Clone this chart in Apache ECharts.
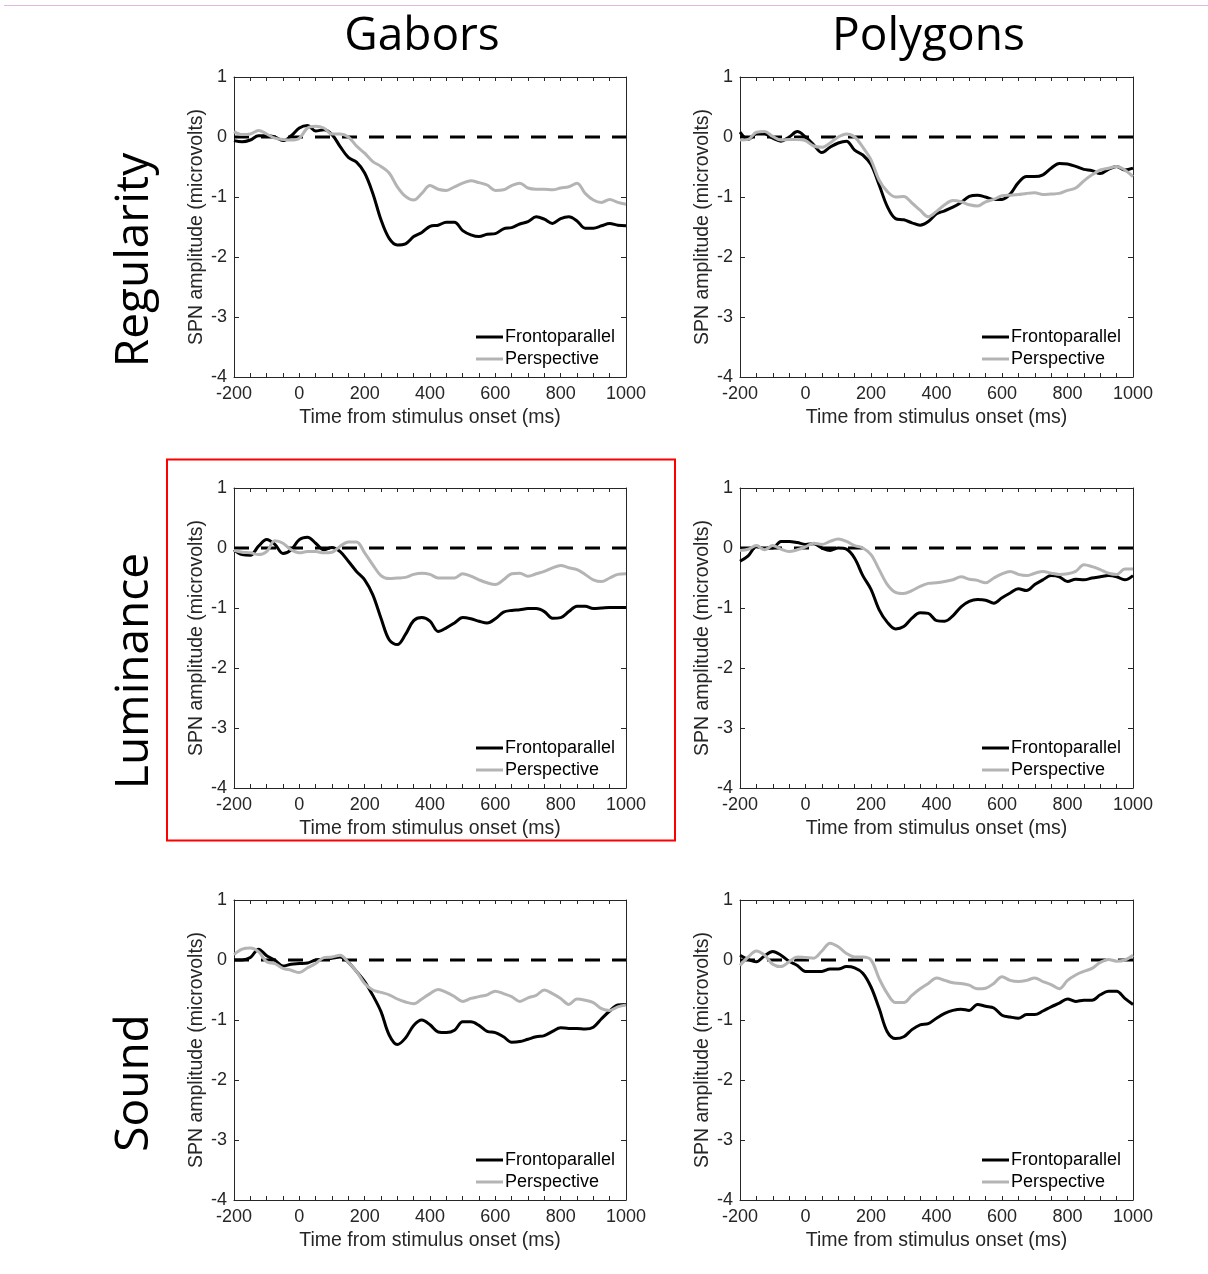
<!DOCTYPE html>
<html><head><meta charset="utf-8">
<script src="https://cdn.jsdelivr.net/npm/echarts@6/dist/echarts.min.js"></script>
<style>html,body{margin:0;padding:0;background:#fff}#c{width:1208px;height:1274px}</style>
</head><body><div id="c"></div>
<script>
// ---- data ----
const times = [-200,-175,-150,-125,-100,-75,-50,-25,0,25,50,75,100,125,150,175,200,225,250,275,300,325,350,375,400,425,450,475,500,525,550,575,600,625,650,675,700,725,750,775,800,825,850,875,900,925,950,975,1000];
const xTickLabels = [-200,0,200,400,600,800,1000];
const yTickLabels = [-4,-3,-2,-1,0,1];
const columnTitles = ['Gabors','Polygons'];
const rowTitles = ['Regularity','Luminance','Sound'];
const seriesNames = ['Frontoparallel','Perspective'];

const gaborsRegularityFronto = [-0.06,-0.08,-0.05,0.02,0.02,0,-0.06,0.02,0.15,0.19,0.10,0.12,0.04,-0.16,-0.34,-0.42,-0.6,-0.94,-1.38,-1.69,-1.80,-1.78,-1.66,-1.59,-1.49,-1.47,-1.42,-1.42,-1.56,-1.63,-1.66,-1.62,-1.61,-1.53,-1.51,-1.45,-1.41,-1.33,-1.37,-1.44,-1.36,-1.33,-1.40,-1.52,-1.52,-1.48,-1.44,-1.47,-1.48];
const gaborsRegularityPersp = [0.09,0.04,0.05,0.11,0.05,-0.02,-0.04,-0.05,-0.02,0.15,0.18,0.15,0.05,0.05,0,-0.15,-0.27,-0.41,-0.49,-0.60,-0.83,-0.99,-1.05,-0.94,-0.81,-0.87,-0.89,-0.83,-0.77,-0.73,-0.76,-0.80,-0.89,-0.88,-0.81,-0.77,-0.85,-0.87,-0.87,-0.88,-0.85,-0.83,-0.77,-0.94,-1.05,-1.09,-1.04,-1.09,-1.12];
const polygonsRegularityFronto = [0.08,-0.04,0.05,0.05,-0.02,-0.07,0,0.09,0,-0.13,-0.26,-0.17,-0.10,-0.07,-0.22,-0.30,-0.46,-0.80,-1.16,-1.36,-1.38,-1.43,-1.47,-1.41,-1.28,-1.23,-1.17,-1.09,-0.99,-0.97,-1.00,-1.04,-1.04,-0.95,-0.76,-0.66,-0.66,-0.63,-0.52,-0.44,-0.45,-0.49,-0.54,-0.56,-0.61,-0.54,-0.49,-0.55,-0.52];
const polygonsRegularityPersp = [-0.05,-0.04,0.08,0.09,0.01,-0.05,-0.04,-0.04,-0.06,-0.15,-0.17,-0.10,0,0.05,0,-0.17,-0.38,-0.72,-0.91,-1.00,-0.99,-1.10,-1.22,-1.33,-1.24,-1.13,-1.06,-1.08,-1.13,-1.15,-1.08,-1.04,-0.98,-0.97,-0.96,-0.94,-0.93,-0.96,-0.95,-0.94,-0.89,-0.85,-0.73,-0.63,-0.55,-0.52,-0.49,-0.55,-0.66];
const gaborsLuminanceFronto = [-0.03,-0.11,-0.12,0.03,0.14,0.06,-0.09,-0.03,0.14,0.18,0.08,-0.03,0.01,-0.06,-0.22,-0.39,-0.53,-0.78,-1.17,-1.53,-1.61,-1.44,-1.21,-1.16,-1.22,-1.39,-1.33,-1.25,-1.16,-1.18,-1.22,-1.25,-1.18,-1.07,-1.04,-1.03,-1.01,-1.01,-1.06,-1.17,-1.16,-1.06,-0.97,-0.97,-1.01,-1.00,-0.99,-0.99,-0.99];
const gaborsLuminancePersp = [-0.04,-0.07,-0.08,-0.11,-0.06,0.12,0.08,-0.03,-0.08,-0.06,-0.06,-0.08,-0.07,0.03,0.10,0.10,-0.08,-0.28,-0.46,-0.51,-0.50,-0.49,-0.44,-0.42,-0.44,-0.50,-0.50,-0.50,-0.43,-0.47,-0.53,-0.58,-0.61,-0.53,-0.43,-0.42,-0.47,-0.43,-0.39,-0.33,-0.29,-0.33,-0.36,-0.44,-0.53,-0.56,-0.50,-0.44,-0.43];
const polygonsLuminanceFronto = [-0.22,-0.13,0.02,0,0,0.11,0.11,0.09,0.06,0.07,0,-0.04,0,-0.02,-0.17,-0.46,-0.69,-1.03,-1.24,-1.35,-1.31,-1.17,-1.08,-1.09,-1.21,-1.22,-1.13,-0.98,-0.89,-0.86,-0.87,-0.92,-0.83,-0.75,-0.68,-0.71,-0.61,-0.53,-0.46,-0.48,-0.56,-0.52,-0.53,-0.50,-0.48,-0.46,-0.48,-0.53,-0.46];
const polygonsLuminancePersp = [-0.04,-0.02,0.04,-0.03,0.04,-0.02,-0.06,-0.03,0.02,0.08,0.06,0.11,0.15,0.11,0.04,0,-0.11,-0.36,-0.61,-0.74,-0.76,-0.71,-0.64,-0.59,-0.58,-0.56,-0.53,-0.48,-0.52,-0.54,-0.58,-0.50,-0.43,-0.39,-0.44,-0.46,-0.42,-0.39,-0.42,-0.44,-0.43,-0.39,-0.28,-0.31,-0.36,-0.42,-0.44,-0.35,-0.35];
const gaborsSoundFronto = [0,0,0.04,0.18,0.07,0,-0.10,-0.07,-0.06,-0.05,0,0.01,0.03,0.05,-0.04,-0.19,-0.36,-0.59,-0.86,-1.25,-1.41,-1.30,-1.09,-1.00,-1.08,-1.20,-1.21,-1.17,-1.03,-1.03,-1.09,-1.19,-1.21,-1.28,-1.37,-1.36,-1.32,-1.28,-1.26,-1.19,-1.13,-1.14,-1.14,-1.15,-1.12,-0.98,-0.85,-0.75,-0.74];
const gaborsSoundPersp = [0.09,0.18,0.20,0.14,-0.03,-0.06,-0.14,-0.17,-0.21,-0.13,-0.06,0.04,0.05,0.08,-0.04,-0.19,-0.39,-0.50,-0.54,-0.58,-0.65,-0.70,-0.73,-0.65,-0.56,-0.49,-0.54,-0.61,-0.69,-0.64,-0.61,-0.58,-0.52,-0.56,-0.61,-0.69,-0.63,-0.59,-0.50,-0.56,-0.64,-0.74,-0.65,-0.67,-0.71,-0.81,-0.84,-0.78,-0.75];
const polygonsSoundFronto = [0.08,0.01,-0.03,0.07,0.14,0.08,-0.02,-0.09,-0.19,-0.19,-0.19,-0.15,-0.15,-0.11,-0.13,-0.22,-0.45,-0.81,-1.20,-1.31,-1.28,-1.16,-1.08,-1.06,-0.97,-0.89,-0.84,-0.82,-0.84,-0.74,-0.77,-0.80,-0.92,-0.95,-0.97,-0.91,-0.91,-0.85,-0.78,-0.72,-0.65,-0.69,-0.67,-0.67,-0.58,-0.52,-0.52,-0.64,-0.74];
const polygonsSoundPersp = [-0.09,0.05,0.15,0.08,-0.07,-0.11,-0.03,0.05,0.04,0.03,0.15,0.28,0.22,0.11,0.05,0.05,0,-0.31,-0.56,-0.71,-0.71,-0.59,-0.48,-0.39,-0.30,-0.34,-0.38,-0.39,-0.42,-0.48,-0.47,-0.39,-0.28,-0.34,-0.36,-0.34,-0.30,-0.36,-0.41,-0.48,-0.34,-0.25,-0.19,-0.14,-0.04,0.01,-0.02,0,0.08];

const panelData = [
  [gaborsRegularityFronto, gaborsRegularityPersp],
  [polygonsRegularityFronto, polygonsRegularityPersp],
  [gaborsLuminanceFronto, gaborsLuminancePersp],
  [polygonsLuminanceFronto, polygonsLuminancePersp],
  [gaborsSoundFronto, gaborsSoundPersp],
  [polygonsSoundFronto, polygonsSoundPersp]
];

// ---- layout / style ----
const colLeft = [234, 740], colW = [392, 393];
const rowTop = [77, 488, 900], plotH = 300;
const axisColor = '#262626';
const axFont = 'Liberation Sans';
const seriesColors = ['#000000', '#b4b4b4'];

const xMin = xTickLabels[0], xMax = xTickLabels[xTickLabels.length-1];
const xStep = xTickLabels[1]-xTickLabels[0];
const yMin = yTickLabels[0], yMax = yTickLabels[yTickLabels.length-1];
const yStep = yTickLabels[1]-yTickLabels[0];

const grids=[], xAxes=[], yAxes=[], series=[], legends=[];
const lineSt = {color: axisColor, width: 1};
const plain = v => String(v);
panelData.forEach((pd, i) => {
  const r = Math.floor(i/2), c = i%2;
  grids.push({left: colLeft[c], top: rowTop[r], width: colW[c], height: plotH});
  const xBase = {gridIndex: i, type: 'value', min: xMin, max: xMax, interval: xStep,
    axisLine: {show: true, onZero: false, lineStyle: lineSt},
    axisTick: {show: true, inside: true, length: 4, lineStyle: lineSt},
    minorTick: {show: true, splitNumber: 4, length: 4, lineStyle: lineSt},
    splitLine: {show: false}, minorSplitLine: {show: false}};
  xAxes.push(Object.assign({}, xBase, {position: 'bottom',
    name: 'Time from stimulus onset (ms)', nameLocation: 'middle', nameGap: 31,
    nameTextStyle: {fontFamily: axFont, fontSize: 19.5, color: axisColor},
    axisLabel: {show: true, margin: 8, fontFamily: axFont, fontSize: 18, color: axisColor, formatter: plain}}));
  xAxes.push(Object.assign({}, xBase, {position: 'top', axisLabel: {show: false}}));
  const yBase = {gridIndex: i, type: 'value', min: yMin, max: yMax, interval: yStep,
    axisLine: {show: true, onZero: false, lineStyle: lineSt},
    axisTick: {show: true, inside: true, length: 5, lineStyle: lineSt},
    splitLine: {show: false}};
  yAxes.push(Object.assign({}, yBase, {position: 'left',
    name: 'SPN amplitude (microvolts)', nameLocation: 'middle', nameGap: 26,
    nameTextStyle: {fontFamily: axFont, fontSize: 19.5, color: axisColor},
    axisLabel: {show: true, margin: 7, fontFamily: axFont, fontSize: 18, color: axisColor, formatter: plain}}));
  yAxes.push(Object.assign({}, yBase, {position: 'right', axisLabel: {show: false}}));

  series.push({type: 'line', xAxisIndex: 2*i, yAxisIndex: 2*i, data: [[xMin,0],[xMax,0]],
    symbol: 'none', silent: true, z: 1,
    lineStyle: {color: '#000', width: 3, type: [15, 12]}});
  pd.forEach((vals, k) => {
    series.push({name: seriesNames[k], type: 'line', xAxisIndex: 2*i, yAxisIndex: 2*i,
      data: times.map((t, j) => [t, vals[j]]), smooth: 0.35, symbol: 'none', showSymbol: false,
      z: 2 + k, lineStyle: {color: seriesColors[k], width: 3}, itemStyle: {color: seriesColors[k]}});
  });
  legends.push({orient: 'vertical', left: c === 0 ? 471 : 977, top: rowTop[r] + plotH - 54,
    icon: 'rect', itemWidth: 27, itemHeight: 3, itemGap: 4, padding: 5, selectedMode: false,
    data: seriesNames, textStyle: {fontFamily: axFont, fontSize: 18, color: '#000', padding: [0,0,0,-3]}});
});

const titleFont = '"Open Sans", "Noto Sans", sans-serif';
const graphics = [
  {type: 'line', shape: {x1: 4, y1: 5.5, x2: 1208, y2: 5.5}, style: {stroke: '#e2b8e2', lineWidth: 1}},
  {type: 'rect', shape: {x: 167, y: 459.5, width: 508, height: 381}, style: {fill: 'none', stroke: '#ff0000', lineWidth: 2}}
];
columnTitles.forEach((t, c) => graphics.push({type: 'text', x: colLeft[c] + colW[c]/2 - 8, y: 37,
  style: {text: t, font: '46px ' + titleFont, fill: '#000', align: 'center', verticalAlign: 'middle'}}));
rowTitles.forEach((t, r) => graphics.push({type: 'text', x: 135, y: rowTop[r] + plotH/2 + 33, rotation: Math.PI/2,
  style: {text: t, font: '46px ' + titleFont, fill: '#000', align: 'center', verticalAlign: 'middle'}}));

const chart = echarts.init(document.getElementById('c'), null, {renderer: 'canvas'});
chart.setOption({animation: false, backgroundColor: '#fff', grid: grids, xAxis: xAxes, yAxis: yAxes,
  series: series, legend: legends, graphic: graphics});
</script></body></html>
